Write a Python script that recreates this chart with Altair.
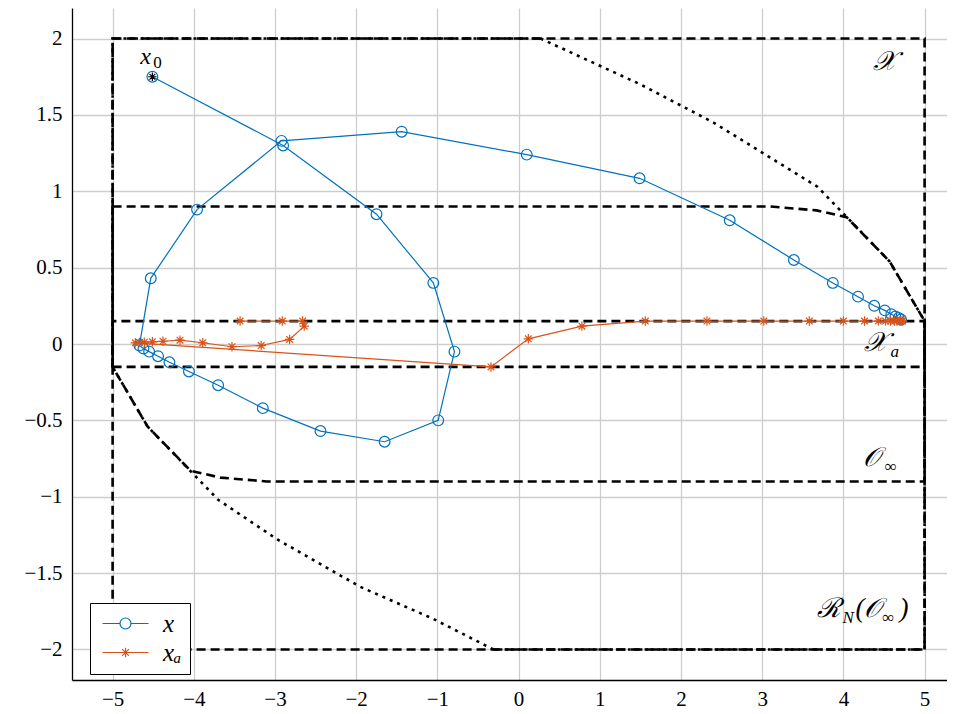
import altair as alt
import pandas as pd

# ---------------- data ----------------
# state trajectory x (blue circles)
x_traj_x = [-4.51, -2.90, -1.75, -1.05, -0.79, -0.99, -1.65, -2.44, -3.15, -3.70, -4.06, -4.30,
            -4.44, -4.55, -4.62, -4.67, -4.53, -3.96, -2.92, -1.44, 0.10, 1.49, 2.60, 3.39,
            3.87, 4.18, 4.38, 4.51, 4.59, 4.64, 4.68, 4.71]
x_traj_y = [1.75, 1.30, 0.85, 0.40, -0.05, -0.50, -0.64, -0.57, -0.42, -0.27, -0.18, -0.12,
            -0.08, -0.05, -0.03, -0.01, 0.43, 0.88, 1.33, 1.39, 1.24, 1.085, 0.81, 0.55,
            0.40, 0.31, 0.25, 0.22, 0.195, 0.18, 0.17, 0.16]
# trajectory x_a (orange stars)
xa_traj_x = [-3.43, -2.91, -2.66, -2.64, -2.82, -3.17, -3.53, -3.89, -4.17, -4.38, -4.51, -4.61,
             -4.67, -4.72, -0.34, 0.12, 0.78, 1.56, 2.32, 3.02, 3.58, 4.00, 4.26, 4.43, 4.52,
             4.58, 4.63, 4.66, 4.69, 4.71, 4.73]
xa_traj_y = [0.15, 0.15, 0.15, 0.117, 0.03, -0.01, -0.018, 0.008, 0.025, 0.018, 0.014, 0.012,
             0.01, 0.008, -0.15, 0.034, 0.117, 0.15, 0.15, 0.15, 0.15, 0.15, 0.15, 0.15, 0.15,
             0.15, 0.15, 0.15, 0.15, 0.15, 0.15]
series_names = ["x", "xₐ"]

# set boundaries
X_set_x = [-5, 5, 5, -5, -5]
X_set_y = [-2, -2, 2, 2, -2]
Xa_set_x = [-5, 5, 5, -5, -5]
Xa_set_y = [-0.15, -0.15, 0.15, 0.15, -0.15]
Oinf_x = [-5, 3.1, 3.67, 4.04, 4.57, 5, 5, -3.1, -3.67, -4.04, -4.57, -5, -5]
Oinf_y = [0.9, 0.9, 0.875, 0.83, 0.54, 0.15, -0.9, -0.9, -0.875, -0.83, -0.54, -0.15, 0.9]
RN_dot_top_x = [0.27, 1.5, 2.4, 3.07, 3.68, 4.57, 5.0]
RN_dot_top_y = [2.0, 1.7, 1.45, 1.23, 1.03, 0.54, 0.15]
RN_dot_bot_x = [-0.31, -1.05, -1.95, -2.97, -3.70, -4.57, -5.0]
RN_dot_bot_y = [-2.0, -1.80, -1.59, -1.28, -1.02, -0.54, -0.15]
RN_dd_a_x = [0.27, -5, -5]
RN_dd_a_y = [2, 2, -0.15]
RN_dd_b_x = [-0.31, 5, 5]
RN_dd_b_y = [-2, -2, 0.15]

# annotations (text, x, y)
x0_text = ["x"]
x0_tx = [-4.66]
x0_ty = [1.836]
script_text = ["𝒳", "𝒳", "𝒪", "ℛ", "(", "𝒪", ")"]
script_x = [4.37, 4.25, 4.24, 3.68, 4.15, 4.25, 4.69]
script_y = [1.797, -0.049, -0.80, -1.79, -1.79, -1.79, -1.79]
sub_it_text = ["a", "N"]
sub_it_x = [4.58, 3.99]
sub_it_y = [-0.085, -1.825]
sub_up_text = ["0", "∞", "∞"]
sub_up_x = [-4.50, 4.51, 4.48]
sub_up_y = [1.81, -0.835, -1.825]

x_ticks = [-5, -4, -3, -2, -1, 0, 1, 2, 3, 4, 5]
y_ticks = [-2, -1.5, -1, -0.5, 0, 0.5, 1, 1.5, 2]

# ---------------- tables ----------------
traj = pd.concat([
    pd.DataFrame({"x": x_traj_x, "y": x_traj_y, "i": range(len(x_traj_x)), "s": series_names[0]}),
    pd.DataFrame({"x": xa_traj_x, "y": xa_traj_y, "i": range(len(xa_traj_x)), "s": series_names[1]}),
])

def seg(xs, ys, name, style):
    return pd.DataFrame({"x": xs, "y": ys, "i": range(len(xs)), "seg": name, "style": style})

bounds = pd.concat([
    seg(X_set_x, X_set_y, "X", "dash"),
    seg(Xa_set_x, Xa_set_y, "Xa", "dash"),
    seg(Oinf_x, Oinf_y, "O", "dash"),
    seg(RN_dot_top_x, RN_dot_top_y, "Rt", "dot"),
    seg(RN_dot_bot_x, RN_dot_bot_y, "Rb", "dot"),
    seg(RN_dd_a_x, RN_dd_a_y, "Ra", "dashdot"),
    seg(RN_dd_b_x, RN_dd_b_y, "Rb2", "dashdot"),
])

x0 = pd.DataFrame({"x": [x_traj_x[0]], "y": [x_traj_y[0]]})
x0_df = pd.DataFrame({"t": x0_text, "x": x0_tx, "y": x0_ty})
script_df = pd.DataFrame({"t": script_text, "x": script_x, "y": script_y})
sub_it_df = pd.DataFrame({"t": sub_it_text, "x": sub_it_x, "y": sub_it_y})
sub_up_df = pd.DataFrame({"t": sub_up_text, "x": sub_up_x, "y": sub_up_y})

BLUE = "#0072BD"
ORANGE = "#D95319"
SERIF = "Liberation Serif"

xs = alt.Scale(domain=[-5.5, 5.276], nice=False, zero=False)
ys = alt.Scale(domain=[-2.2, 2.2], nice=False, zero=False)

minus_expr = "replace(format(datum.value, '~g'), '-', '\u2212')"
X = alt.X("x:Q", scale=xs, axis=alt.Axis(values=x_ticks, labelExpr=minus_expr, title=None, ticks=False,
                                         labelPadding=8, grid=True))
Y = alt.Y("y:Q", scale=ys, axis=alt.Axis(values=y_ticks, labelExpr=minus_expr, title=None, ticks=False,
                                         labelPadding=10, grid=True))

star_path = "M0,-1L0,1M-1,0L1,0M-0.7,-0.7L0.7,0.7M-0.7,0.7L0.7,-0.7"
# legend symbols: sqrt(size)=16 -> 1 unit = 8 px; line spans -8..38 px around centre
leg_circle = ("M-1,0L1.1875,0M2.5625,0L4.75,0"
              "M2.5625,0A0.6875,0.6875,0,1,1,1.1875,0A0.6875,0.6875,0,1,1,2.5625,0")
leg_star = ("M-1,0L4.75,0M1.875,-0.6L1.875,0.6M1.45,-0.42L2.3,0.42M1.45,0.42L2.3,-0.42")

color_scale = alt.Scale(domain=series_names, range=[BLUE, ORANGE])
legend = alt.Legend(
    title=None, orient="none", legendX=18, legendY=595,
    fillColor="white", strokeColor="black", padding=8, rowPadding=3,
    symbolSize=256, symbolStrokeWidth=1.2, symbolFillColor="transparent",
    labelFont=SERIF, labelFontSize=25,
    labelFontStyle="italic", labelOffset=40, labelColor="black",
    symbolType={"expr": f"datum.value === 'x' ? '{leg_circle}' : '{leg_star}'"},
)

boundary = alt.Chart(bounds).mark_line(color="black", strokeWidth=2.6, clip=True).encode(
    x=X, y=Y, detail="seg:N", order="i:Q",
    strokeDash=alt.StrokeDash("style:N", legend=None,
                              scale=alt.Scale(domain=["dash", "dot", "dashdot"],
                                              range=[[9, 5], [3, 5], [9, 3, 2.5, 3]])),
)

lines = alt.Chart(traj).mark_line(strokeWidth=1.2).encode(
    x="x:Q", y="y:Q", detail="s:N", order="i:Q",
    color=alt.Color("s:N", scale=color_scale, legend=legend),
)

circles = alt.Chart(traj).transform_filter(alt.datum.s == series_names[0]).mark_point(
    shape="circle", filled=False, strokeWidth=1.2, size=115, opacity=1).encode(
    x="x:Q", y="y:Q", color=alt.Color("s:N", scale=color_scale, legend=legend))

stars = alt.Chart(traj).transform_filter(alt.datum.s == series_names[1]).mark_point(
    shape=star_path, filled=False, strokeWidth=1.2, size=90, opacity=1).encode(
    x="x:Q", y="y:Q", color=alt.Color("s:N", scale=color_scale, legend=legend))

x0_star = alt.Chart(x0).mark_point(shape=star_path, size=70, color="black", strokeWidth=1.2,
                                   filled=False, opacity=1).encode(x="x:Q", y="y:Q")

x0_txt = alt.Chart(x0_df).mark_text(font=SERIF, fontSize=24, fontStyle="italic", align="left",
                                    baseline="alphabetic", color="black").encode(
    x="x:Q", y="y:Q", text="t:N")
script_txt = alt.Chart(script_df).mark_text(font=SERIF, fontSize=27, fontStyle="italic", align="left",
                                            baseline="alphabetic", color="black").encode(
    x="x:Q", y="y:Q", text="t:N")
sub_it_txt = alt.Chart(sub_it_df).mark_text(font=SERIF, fontSize=17, fontStyle="italic", align="left",
                                            baseline="alphabetic", color="black").encode(
    x="x:Q", y="y:Q", text="t:N")
sub_up_txt = alt.Chart(sub_up_df).mark_text(font=SERIF, fontSize=17, align="left",
                                            baseline="alphabetic", color="black").encode(
    x="x:Q", y="y:Q", text="t:N")

chart = alt.layer(boundary, lines, circles, stars, x0_star,
                  x0_txt, script_txt, sub_it_txt, sub_up_txt).properties(
    width=875, height=672,
    padding={"left": 64, "top": 0, "right": 0, "bottom": 34},
    autosize=alt.AutoSizeParams(type="none"),
).configure_view(stroke=None).configure_axis(
    labelFont=SERIF, labelFontSize=21, labelColor="black",
    gridColor="#cdcdcd", gridWidth=1.3, gridOpacity=1,
    domainColor="black", domainWidth=1.3,
)

chart.save("out.html", embed_options={"renderer": "svg", "actions": False})
